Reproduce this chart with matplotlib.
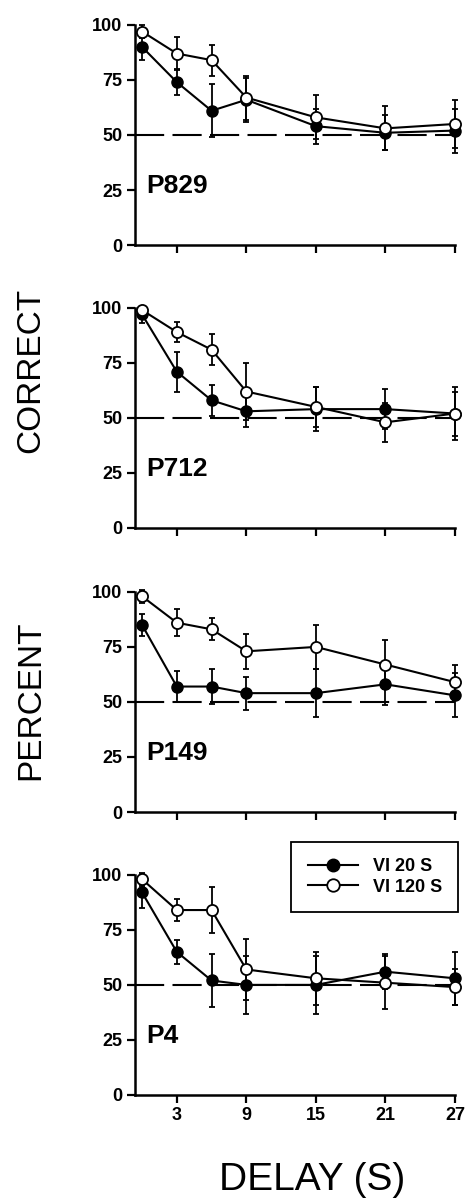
# Delayed matching: percent correct as a function of delay, four subjects

import matplotlib
matplotlib.use("Agg")
import matplotlib.pyplot as plt
from matplotlib.lines import Line2D
import numpy as np

# dados
delay = np.array([0, 3, 6, 9, 15, 21, 27])
xticks = [3, 9, 15, 21, 27]
yticks = [0, 25, 50, 75, 100]

subjects = ["P829", "P712", "P149", "P4"]
series_labels = ["VI 20 S", "VI 120 S"]

# VI 20 S (filled circles)
vi20 = [
    [90, 74, 61, 66, 54, 51, 52],   # P829
    [97, 71, 58, 53, 54, 54, 52],   # P712
    [85, 57, 57, 54, 54, 58, 53],   # P149
    [92, 65, 52, 50, 50, 56, 53],   # P4
]
vi20_err = [
    [6, 6, 12, 10, 8, 8, 10],
    [4, 9, 7, 7, 10, 9, 12],
    [5, 7, 8, 7.5, 11, 9.5, 10],
    [7, 5.5, 12, 13, 13, 8, 12],
]

# VI 120 S (open circles)
vi120 = [
    [97, 87, 84, 67, 58, 53, 55],
    [99, 89, 81, 62, 55, 48, 52],
    [98, 86, 83, 73, 75, 67, 59],
    [98, 84, 84, 57, 53, 51, 49],
]
vi120_err = [
    [3, 7.5, 7, 10, 10, 10, 11],
    [2, 4.5, 7, 13, 9, 9, 10],
    [3, 6, 5, 8, 10, 11, 8],
    [3, 5, 10.5, 14, 12, 12, 8],
]

plt.rcParams['font.family'] = ['Liberation Sans', 'DejaVu Sans']

fig = plt.figure(figsize=(4.69, 12.03), dpi=100)

# posicao dos paineis (fracao da figura)
left, width, height = 0.288, 0.682, 0.183
bottoms = [0.7963, 0.5611, 0.325, 0.0898]

for i, name in enumerate(subjects):
    ax = fig.add_axes([left, bottoms[i], width, height])

    # linha de 50% tracejada
    ax.plot([-0.6, 27], [50, 50], color='black', lw=1.5, ls=(0, (14, 4)), zorder=1)

    ax.errorbar(delay, vi20[i], yerr=vi20_err[i], color='black', marker='o',
                markersize=8, markerfacecolor='black', lw=1.5, elinewidth=1.3,
                capsize=2.5, capthick=1.3, clip_on=False, zorder=3)
    ax.errorbar(delay, vi120[i], yerr=vi120_err[i], color='black', marker='o',
                markersize=8, markerfacecolor='white', markeredgewidth=1.3, lw=1.5,
                elinewidth=1.3, capsize=2.5, capthick=1.3, clip_on=False, zorder=4)

    ax.set_xlim(-0.6, 27)
    ax.set_ylim(0, 100)
    ax.set_yticks(yticks)
    ax.set_xticks(xticks)

    # remove as bordas de cima e da direita
    ax.spines['top'].set_visible(False)
    ax.spines['right'].set_visible(False)
    ax.spines['left'].set_linewidth(1.8)
    ax.spines['bottom'].set_linewidth(1.8)
    ax.tick_params(direction='out', length=6, width=1.6, labelsize=13, pad=3)
    for lab in ax.get_yticklabels() + ax.get_xticklabels():
        lab.set_fontweight('bold')

    if i < 3:
        ax.set_xticklabels([])

    ax.text(0.4, 27, name, fontsize=19, fontweight='bold', va='center', ha='left')

    if i == 3:
        handles = [
            Line2D([], [], color='black', lw=1.5, marker='o', markersize=9,
                   markerfacecolor='black'),
            Line2D([], [], color='black', lw=1.5, marker='o', markersize=9,
                   markerfacecolor='white', markeredgewidth=1.3),
        ]
        leg = ax.legend(handles, series_labels, loc='upper right',
                        bbox_to_anchor=(1.01, 1.15), borderaxespad=0,
                        fancybox=False, edgecolor='black', framealpha=1,
                        prop={'weight': 'bold', 'size': 13}, handlelength=2.8,
                        borderpad=0.9, labelspacing=0.2, handletextpad=0.8)
        leg.get_frame().set_linewidth(1.3)

# rotulos dos eixos
fig.text(0.065, 1 - 700 / 1203, 'PERCENT', rotation=90, fontsize=24, ha='center', va='center')
fig.text(0.065, 1 - 370 / 1203, 'CORRECT', rotation=90, fontsize=24, ha='center', va='center')
fig.text(0.665, 1 - 1180 / 1203, 'DELAY (S)', fontsize=28, ha='center', va='center')

fig.savefig('out.png', dpi=100)
